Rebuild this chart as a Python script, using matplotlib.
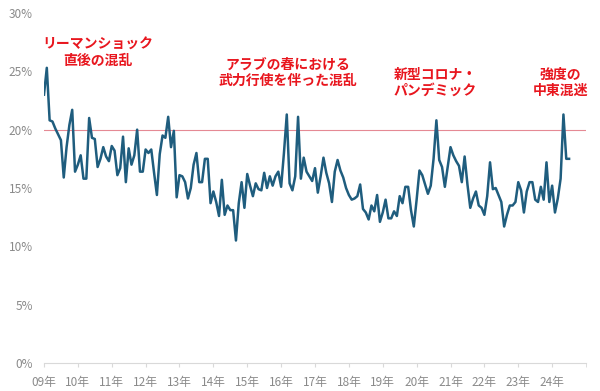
import matplotlib
matplotlib.use("Agg")
import matplotlib.pyplot as plt
import numpy as np

plt.rcParams['font.family'] = ['Noto Sans CJK JP', 'DejaVu Sans']

# Monthly values (%) from Jan 2009 onwards
values = [
    23.0, 25.3, 20.8, 20.7, 20.1, 19.6, 19.1, 15.9, 18.5, 20.4, 21.7, 16.4,
    17.0, 17.8, 15.8, 15.8, 21.0, 19.3, 19.2, 16.8, 17.5, 18.5, 17.7, 17.3,
    18.6, 18.2, 16.1, 16.7, 19.4, 15.5, 18.4, 17.0, 17.8, 20.0, 16.4, 16.4,
    18.3, 18.0, 18.3, 16.3, 14.4, 17.9, 19.5, 19.3, 21.1, 18.5, 19.9, 14.2,
    16.1, 16.0, 15.5, 14.1, 15.0, 17.0, 18.0, 15.5, 15.5, 17.5, 17.5, 13.7,
    14.7, 13.8, 12.6, 15.7, 12.7, 13.5, 13.1, 13.1, 10.5, 13.7, 15.5, 13.3,
    16.2, 15.2, 14.3, 15.4, 14.9, 14.8, 16.3, 15.0, 16.0, 15.2, 16.0, 16.4,
    15.1, 18.0, 21.3, 15.4, 14.8, 16.0, 21.1, 15.8, 17.6, 16.4, 16.0, 15.6,
    16.7, 14.6, 16.0, 17.6, 16.3, 15.4, 13.8, 16.4, 17.4, 16.5, 15.9, 15.0,
    14.4, 14.0, 14.1, 14.3, 15.3, 13.2, 12.9, 12.3, 13.5, 13.0, 14.4, 12.1,
    12.9, 14.0, 12.4, 12.4, 13.0, 12.6, 14.3, 13.7, 15.1, 15.1, 13.1, 11.7,
    14.0, 16.5, 16.1, 15.3, 14.5, 15.2, 17.5, 20.8, 17.4, 16.8, 15.1, 16.8,
    18.5, 17.8, 17.3, 16.9, 15.5, 17.7, 15.3, 13.3, 14.1, 14.7, 13.5, 13.3,
    12.7, 14.3, 17.2, 14.9, 15.0, 14.4, 13.8, 11.7, 12.7, 13.5, 13.5, 13.8,
    15.5, 14.8, 12.9, 14.7, 15.5, 15.5, 14.0, 13.8, 15.1, 14.0, 17.2, 13.8,
    15.2, 12.9, 14.1, 15.8, 21.3, 17.5, 17.5,
]
start_year = 2009
years = list(range(2009, 2025))
year_labels = ["09年", "10年", "11年", "12年", "13年", "14年", "15年", "16年",
               "17年", "18年", "19年", "20年", "21年", "22年", "23年", "24年"]
y_ticks = [0, 5, 10, 15, 20, 25, 30]
y_labels = ["0%", "5%", "10%", "15%", "20%", "25%", "30%"]
reference_level = 20

annotations = [
    ("リーマンショック\n直後の混乱", 2010.6, 26.6),
    ("アラブの春における\n武力行使を伴った混乱", 2016.2, 24.9),
    ("新型コロナ・\nパンデミック", 2020.55, 24.0),
    ("強度の\n中東混迷", 2024.25, 24.0),
]

x = start_year + np.arange(len(values)) / 12.0

fig = plt.figure(figsize=(6.0, 3.91), dpi=100)
ax = fig.add_axes([0.0733, 0.0716, 0.9034, 0.8952])

ax.axhline(reference_level, color="#e58a94", lw=0.8, zorder=1)
ax.plot(x, values, color="#1f5d7e", lw=1.8, zorder=2)

ax.set_xlim(2009, 2025)
ax.set_ylim(0, 30)
ax.set_yticks(y_ticks)
ax.set_yticklabels(y_labels)
ax.set_xticks(years)
ax.set_xticklabels(year_labels)
ax.set_xticks(list(range(2009, 2026)), minor=True)

for s in ["top", "right", "left"]:
    ax.spines[s].set_visible(False)
ax.spines["bottom"].set_color("#d9d9d9")
ax.spines["bottom"].set_linewidth(0.8)
ax.tick_params(axis="y", length=0, pad=8, labelsize=8.5, labelcolor="#8a8a8a")
ax.tick_params(axis="x", which="major", length=3, color="#d9d9d9", pad=6,
               labelsize=8.5, labelcolor="#8a8a8a")
ax.tick_params(axis="x", which="minor", length=3, color="#d9d9d9")

for text, tx, ty in annotations:
    ax.text(tx, ty, text, color="#e8161e", fontsize=10, fontweight="bold",
            ha="center", va="center", linespacing=1.2)

fig.savefig("out.png", dpi=100, facecolor="white")
